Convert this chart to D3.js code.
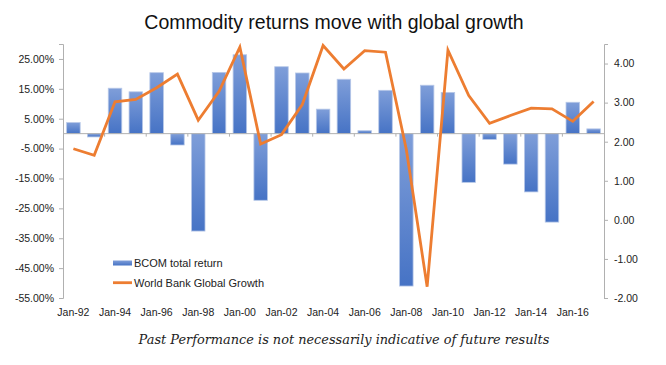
<!DOCTYPE html>
<html>
<head>
<meta charset="utf-8">
<script src="https://cdnjs.cloudflare.com/ajax/libs/d3/7.8.5/d3.min.js"></script>
<style>
  body { margin: 0; background: #fff; }
  .tick text { font-family: "Liberation Sans", Arial, sans-serif; font-size: 10.5px; fill: #222; }
  .legend text { font-family: "Liberation Sans", Arial, sans-serif; font-size: 11px; fill: #222; }
</style>
</head>
<body>
<div class="chart"></div>
<script>
var years = [1992, 1993, 1994, 1995, 1996, 1997, 1998, 1999, 2000, 2001, 2002, 2003, 2004,
             2005, 2006, 2007, 2008, 2009, 2010, 2011, 2012, 2013, 2014, 2015, 2016, 2017]
// BCOM total return, %
var bcom = [3.7, -1.1, 15.2, 14.0, 20.4, -3.8, -32.6, 20.5, 26.4, -22.3, 22.4, 20.3, 8.2,
            18.2, 1.0, 14.5, -51.0, 16.2, 13.8, -16.3, -1.9, -10.2, -19.5, -29.6, 10.5, 1.6]
// World Bank global growth
var growth = [1.82, 1.65, 3.02, 3.08, 3.38, 3.73, 2.55, 3.29, 4.42, 1.94, 2.18, 2.95, 4.46,
              3.86, 4.33, 4.29, 1.80, -1.71, 4.34, 3.18, 2.47, 2.67, 2.86, 2.84, 2.52, 3.03]
var leftTicks = [25, 15, 5, -5, -15, -25, -35, -45, -55]
var rightTicks = [4, 3, 2, 1, 0, -1, -2]
var tickYears = [1992, 1994, 1996, 1998, 2000, 2002, 2004, 2006, 2008, 2010, 2012, 2014, 2016]

var width = 666, height = 365
// plot box (window.top is read-only, so no plain "top")
var pLeft = 63, pRight = 604, pTop = 44, pBottom = 298

var svg = d3.select(".chart").append("svg")
  .attr("width", width)
  .attr("height", height)

var x = d3.scaleBand().domain(years).range([pLeft, pRight]).paddingInner(0.35).paddingOuter(0.175)
var yL = d3.scaleLinear().domain([-55, 30]).range([pBottom, pTop])
var yR = d3.scaleLinear().domain([-2, 4.5]).range([pBottom, pTop])

var grad = svg.append("defs").append("linearGradient")
  .attr("id", "barGrad")
  .attr("x1", 0).attr("y1", 0).attr("x2", 0).attr("y2", 1)
grad.append("stop").attr("offset", "0%").attr("stop-color", "#7f9ed9")
grad.append("stop").attr("offset", "100%").attr("stop-color", "#4673c5")

// title
svg.append("text")
  .attr("x", 334).attr("y", 29)
  .attr("text-anchor", "middle")
  .style("font-family", "'Liberation Sans', Arial, sans-serif")
  .style("font-size", "19.5px")
  .style("fill", "#111")
  .text("Commodity returns move with global growth")

// bars
svg.append("g").selectAll("rect")
  .data(years)
  .enter().append("rect")
    .attr("x", function(d) { return x(d) })
    .attr("width", x.bandwidth())
    .attr("y", function(d, i) { return yL(Math.max(0, bcom[i])) })
    .attr("height", function(d, i) { return Math.abs(yL(bcom[i]) - yL(0)) })
    .style("fill", "url(#barGrad)")
    .style("stroke", "#b7c8e8")
    .style("stroke-width", 0.8)

// axes
function styleAxis(g) {
  g.select(".domain").style("stroke", "#b0b0b0")
  g.selectAll(".tick line").style("stroke", "#b0b0b0")
}

svg.append("g")
  .attr("transform", "translate(" + pLeft + ",0)")
  .call(d3.axisLeft(yL).tickValues(leftTicks).tickSize(4).tickSizeOuter(4).tickPadding(5)
    .tickFormat(function(d) { return d.toFixed(2) + "%" }))
  .call(styleAxis)

svg.append("g")
  .attr("transform", "translate(" + pRight + ",0)")
  .call(d3.axisRight(yR).tickValues(rightTicks).tickSize(4).tickSizeOuter(4).tickPadding(6)
    .tickFormat(function(d) { return d.toFixed(2) }))
  .call(styleAxis)

// category axis along zero, ticks at every other category boundary
var xAxis = svg.append("g")
  .attr("transform", "translate(0," + yL(0) + ")")
xAxis.append("line")
  .attr("x1", pLeft).attr("x2", pRight)
  .style("stroke", "#b0b0b0")
xAxis.selectAll(".cat-tick")
  .data(tickYears.slice(1))
  .enter().append("line")
    .attr("x1", function(d) { return x(d) - x.step() * x.paddingInner() / 2 })
    .attr("x2", function(d) { return x(d) - x.step() * x.paddingInner() / 2 })
    .attr("y1", 0).attr("y2", 3)
    .style("stroke", "#b0b0b0")

svg.append("g")
  .attr("class", "tick")
  .selectAll("text")
  .data(tickYears)
  .enter().append("text")
    .attr("x", function(d) { return x(d) + x.bandwidth() / 2 })
    .attr("y", 316)
    .attr("text-anchor", "middle")
    .text(function(d) { return "Jan-" + String(d).slice(2) })

// growth line
var line = d3.line()
  .x(function(d, i) { return x(years[i]) + x.bandwidth() / 2 })
  .y(function(d) { return yR(d) })

svg.append("path")
  .datum(growth)
  .attr("d", line)
  .style("fill", "none")
  .style("stroke", "#ed7d31")
  .style("stroke-width", 2.8)
  .style("stroke-linejoin", "miter")

// legend
var legend = svg.append("g").attr("class", "legend")
legend.append("rect")
  .attr("x", 113).attr("y", 260.5).attr("width", 19).attr("height", 5)
  .style("fill", "url(#barGrad)")
legend.append("text").attr("x", 134).attr("y", 267).text("BCOM total return")
legend.append("line")
  .attr("x1", 113).attr("x2", 132).attr("y1", 282.7).attr("y2", 282.7)
  .style("stroke", "#ed7d31").style("stroke-width", 2.8)
legend.append("text").attr("x", 134).attr("y", 287).text("World Bank Global Growth")

// footer
svg.append("text")
  .attr("x", 344).attr("y", 344)
  .attr("text-anchor", "middle")
  .style("font-family", "'DejaVu Serif', serif")
  .style("font-style", "italic")
  .style("font-size", "12.9px")
  .style("fill", "#222")
  .text("Past Performance is not necessarily indicative of future results")
</script>
</body>
</html>
